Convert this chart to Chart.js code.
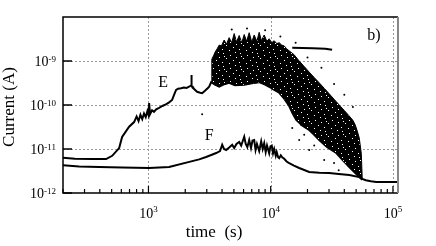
<!DOCTYPE html>
<html>
<head>
<meta charset="utf-8">
<script src="https://cdn.jsdelivr.net/npm/chart.js@4.4.1/dist/chart.umd.min.js"></script>
<style>
  html, body { margin: 0; padding: 0; background: #fff; }
  #wrap { width: 436px; height: 246px; position: relative; }
</style>
</head>
<body>
<div id="wrap"><canvas id="chartCurrent"></canvas></div>
<script>
// --- DATA ---
// curve E before the noisy burst
const eTime = [200, 250, 350, 450, 505, 576, 609, 695, 763, 800, 830, 860, 890, 920, 950,
  980, 1000, 1013, 1030, 1070, 1110, 1156, 1222, 1300, 1400, 1476, 1561, 1620, 1683, 1750,
  1850, 1950, 2050, 2150, 2234, 2245, 2260, 2300, 2364, 2500, 2650, 2750, 2900, 3050, 3139, 3258];
const eCurrent = [6.3e-12, 6.0e-12, 5.9e-12, 5.9e-12, 7.0e-12, 1.05e-11, 1.87e-11, 3.2e-11, 4.1e-11, 5.5e-11,
  4.3e-11, 6.0e-11, 4.8e-11, 6.4e-11, 5.3e-11, 7.2e-11, 6.0e-11, 1.1e-10, 6.2e-11, 7.6e-11,
  7.0e-11, 8.0e-11, 8.6e-11, 9.5e-11, 1.05e-10, 1.15e-10, 1.3e-10, 1.7e-10, 2.2e-10, 2.35e-10,
  2.4e-10, 2.5e-10, 2.45e-10, 2.6e-10, 2.8e-10, 4.8e-10, 2.7e-10, 2.6e-10, 2.3e-10, 2.0e-10,
  1.9e-10, 1.85e-10, 2.1e-10, 2.4e-10, 2.6e-10, 3.3e-10];

// upper and lower edge of the scattered burst of E
const bandTopTime = [3258, 3300, 3400, 3514, 3650, 3791, 3950, 4162, 4350, 4572, 4800, 5027, 5250, 5525,
  5800, 6073, 6350, 6671, 7000, 7329, 7700, 8052, 8400, 8848, 9300, 9720, 10200, 10680, 11200, 11740,
  12300, 12900, 13500, 14170, 15500, 17110, 18800, 20640, 22700, 24930, 27400, 30100, 33000, 36370,
  40000, 43950, 47000, 49200, 51000, 53000, 55070, 56100];
const bandTopCurrent = [3.3e-10, 1.1e-9, 1.3e-9, 1.6e-9, 1.9e-9, 2.3e-9, 2.2e-9, 3.0e-9, 2.4e-9, 3.4e-9,
  2.6e-9, 4.2e-9, 2.7e-9, 3.8e-9, 2.6e-9, 4.0e-9, 2.8e-9, 4.4e-9, 2.7e-9, 3.9e-9,
  2.8e-9, 4.5e-9, 2.9e-9, 3.9e-9, 2.8e-9, 3.2e-9, 2.6e-9, 2.9e-9, 2.5e-9, 2.6e-9,
  2.3e-9, 2.2e-9, 1.9e-9, 1.7e-9, 1.4e-9, 1.0e-9, 7.5e-10, 5.6e-10, 4.2e-10, 3.2e-10,
  2.4e-10, 1.8e-10, 1.35e-10, 1.0e-10, 7.5e-11, 5.6e-11, 4.5e-11, 3.5e-11, 2.6e-11, 1.8e-11,
  8.0e-12, 2.1e-12];
const bandBottomTime = [3258, 3500, 3791, 4100, 4572, 5100, 6073, 7000, 8052, 9000, 9720, 10700, 11740,
  12900, 14170, 15100, 16180, 18200, 20640, 22700, 24930, 29000, 34400, 39000, 43950, 51100, 56100];
const bandBottomCurrent = [3.3e-10, 2.9e-10, 2.6e-10, 2.9e-10, 3.2e-10, 2.8e-10, 2.9e-10, 3.1e-10, 3.3e-10,
  2.9e-10, 2.6e-10, 2.2e-10, 1.9e-10, 1.4e-10, 9.5e-11, 6.5e-11, 4.6e-11, 3.4e-11, 2.7e-11, 2.1e-11,
  1.6e-11, 1.1e-11, 8.1e-12, 5.5e-12, 3.9e-12, 2.57e-12, 2.1e-12];

// curve E after the burst (joins F)
const eTailTime = [56100, 60000, 66000, 73000, 85000, 110000];
const eTailCurrent = [2.1e-12, 1.95e-12, 1.85e-12, 1.78e-12, 1.78e-12, 1.78e-12];

// short flat trace near the top
const segTime = [15000, 22000, 28000, 31800];
const segCurrent = [2.0e-9, 1.95e-9, 1.9e-9, 1.8e-9];

// stray dots around the burst
const strayTime = [4800, 6400, 9000, 12000, 16000, 20000, 26000, 33000, 40000, 47000,
  15000, 17110, 17800, 18800, 20640, 22700, 27400, 33000, 2750, 36000];
const strayCurrent = [5.2e-9, 5.5e-9, 5.0e-9, 3.6e-9, 2.6e-9, 1.2e-9, 7.0e-10, 3.0e-10, 1.7e-10, 9.0e-11,
  3.0e-11, 1.6e-11, 3.5e-11, 2.1e-11, 9.5e-12, 1.2e-11, 5.6e-12, 4.8e-12, 6.2e-11, 3.3e-12];

// curve F
const fTime = [200, 271, 395, 609, 1013, 1476, 2158, 2600, 2963, 3300, 3581, 3850, 4010, 4150, 4324,
  4600, 4840, 5027, 5250, 5525, 5737, 5900, 6073, 6250, 6440, 6671, 6900, 7100, 7329, 7520,
  7720, 8052, 8360, 8600, 8848, 9100, 9330, 9720, 9950, 10200, 10450, 10680, 11000, 11200, 11500,
  11740, 12100, 12420, 12900, 13500, 14170, 15500, 17110, 20640, 25000, 30100, 36000, 43950, 53000, 56100];
const fCurrent = [4.3e-12, 4.0e-12, 3.9e-12, 3.8e-12, 3.7e-12, 3.9e-12, 5.1e-12, 5.8e-12, 6.6e-12, 7.4e-12,
  8.1e-12, 9.0e-12, 1.25e-11, 1.0e-11, 9.5e-12, 1.1e-11, 1.25e-11, 1.05e-11, 1.3e-11, 1.45e-11,
  1.2e-11, 1.5e-11, 1.9e-11, 1.3e-11, 1.1e-11, 1.6e-11, 1.05e-11, 1.55e-11, 1.6e-11, 9.5e-12,
  1.3e-11, 9.0e-12, 1.5e-11, 1.0e-11, 1.35e-11, 8.5e-12, 1.2e-11, 8.0e-12, 1.15e-11, 1.2e-11,
  8.0e-12, 1.0e-11, 7.0e-12, 8.5e-12, 6.5e-12, 6.2e-12, 7.2e-12, 6.5e-12, 6.0e-12, 5.2e-12,
  4.8e-12, 4.2e-12, 3.7e-12, 3.0e-12, 2.9e-12, 2.85e-12, 2.7e-12, 2.57e-12, 2.3e-12, 2.0e-12];

// axis ticks
const xTickValues = [1e3, 1e4, 1e5];
const xTickExp = ['3', '4', '5'];
const yTickValues = [1e-9, 1e-10, 1e-11, 1e-12];
const yTickExp = ['-9', '-10', '-11', '-12'];

// curve labels, placed in data coordinates
const curveLabels = [
  { text: 'E', x: 1320, y: 3.2e-10 },
  { text: 'F', x: 3140, y: 2.0e-11 },
  { text: 'b)', x: 70000, y: 3.7e-9 }
];

// --- HELPERS ---
function pts(xs, ys) {
  return xs.map((x, i) => ({ x: x, y: ys[i] }));
}

// mostly black fill with a few white specks, for the scattered burst
function speckle() {
  const c = document.createElement('canvas');
  c.width = 17; c.height = 13;
  const g = c.getContext('2d');
  g.fillStyle = '#000';
  g.fillRect(0, 0, 17, 13);
  g.fillStyle = '#fff';
  [[2, 1], [9, 3], [14, 0], [5, 6], [12, 8], [1, 10], [8, 11], [15, 5], [3, 4]]
    .forEach(p => g.fillRect(p[0], p[1], 1, 1));
  return g.createPattern(c, 'repeat');
}

const SERIF = "'Liberation Serif', 'Times New Roman', serif";

// grid, frame, ticks and labels drawn in the style of the figure
const figurePlugin = {
  id: 'figure',
  beforeDatasetsDraw(chart) {
    const { ctx, chartArea: a, scales } = chart;
    ctx.save();
    ctx.strokeStyle = '#999';
    ctx.lineWidth = 1;
    ctx.setLineDash([2, 2]);
    xTickValues.forEach(v => {
      const px = Math.round(scales.x.getPixelForValue(v)) + 0.5;
      if (px > a.left + 2 && px < a.right - 2) {
        ctx.beginPath(); ctx.moveTo(px, a.top); ctx.lineTo(px, a.bottom); ctx.stroke();
      }
    });
    yTickValues.forEach(v => {
      const py = Math.round(scales.y.getPixelForValue(v)) + 0.5;
      if (py > a.top + 2 && py < a.bottom - 2) {
        ctx.beginPath(); ctx.moveTo(a.left, py); ctx.lineTo(a.right, py); ctx.stroke();
      }
    });
    ctx.restore();
  },
  afterDraw(chart) {
    const { ctx, chartArea: a, scales } = chart;
    ctx.save();
    ctx.setLineDash([]);

    // frame
    ctx.strokeStyle = '#000';
    ctx.lineWidth = 1.5;
    ctx.beginPath();
    ctx.moveTo(a.right, a.top); ctx.lineTo(a.left, a.top);
    ctx.lineTo(a.left, a.bottom); ctx.lineTo(a.right, a.bottom);
    ctx.stroke();
    ctx.strokeStyle = '#888';
    ctx.lineWidth = 2;
    ctx.beginPath(); ctx.moveTo(a.right, a.top); ctx.lineTo(a.right, a.bottom); ctx.stroke();

    // y major ticks (inward)
    ctx.strokeStyle = '#000';
    ctx.lineWidth = 1.5;
    yTickValues.forEach(v => {
      const py = scales.y.getPixelForValue(v);
      ctx.beginPath(); ctx.moveTo(a.left, py); ctx.lineTo(a.left + 9, py); ctx.stroke();
    });

    // x ticks: minor and major, inward
    ctx.lineWidth = 1.2;
    for (let d = 2; d <= 5; d++) {
      for (let m = 1; m <= 9; m++) {
        const v = m * Math.pow(10, d);
        if (v < scales.x.min || v > scales.x.max) continue;
        const px = scales.x.getPixelForValue(v);
        const len = m === 1 ? 7 : 4;
        ctx.beginPath(); ctx.moveTo(px, a.bottom); ctx.lineTo(px, a.bottom - len); ctx.stroke();
      }
    }

    // tick labels
    ctx.fillStyle = '#000';
    ctx.textBaseline = 'alphabetic';
    const big = '14px ' + SERIF;
    const small = '9px ' + SERIF;
    yTickValues.forEach((v, i) => {
      const py = scales.y.getPixelForValue(v);
      ctx.font = small;
      const ew = ctx.measureText(yTickExp[i]).width;
      const right = a.left - 7;
      ctx.textAlign = 'left';
      ctx.fillText(yTickExp[i], right - ew, py + 0.5);
      ctx.font = big;
      ctx.textAlign = 'right';
      ctx.fillText('10', right - ew, py + 5);
    });
    xTickValues.forEach((v, i) => {
      const px = scales.x.getPixelForValue(v);
      ctx.font = big;
      const bw = ctx.measureText('10').width;
      ctx.font = small;
      const ew = ctx.measureText(xTickExp[i]).width;
      const start = px - (bw + ew) / 2;
      ctx.textAlign = 'left';
      ctx.font = big;
      ctx.fillText('10', start, a.bottom + 25);
      ctx.font = small;
      ctx.fillText(xTickExp[i], start + bw, a.bottom + 19);
    });

    // axis titles
    ctx.font = '17px ' + SERIF;
    ctx.textAlign = 'center';
    ctx.fillText('time  (s)', a.left + 151, a.bottom + 44);
    ctx.save();
    ctx.translate(10, a.top + 90);
    ctx.rotate(-Math.PI / 2);
    ctx.textBaseline = 'middle';
    ctx.fillText('Current (A)', 0, 0);
    ctx.restore();

    // curve labels
    ctx.font = '16px ' + SERIF;
    ctx.textAlign = 'center';
    ctx.textBaseline = 'middle';
    curveLabels.forEach(l => {
      ctx.fillText(l.text, scales.x.getPixelForValue(l.x), scales.y.getPixelForValue(l.y));
    });
    ctx.restore();
  }
};

// --- CHART ---
Chart.defaults.font.family = SERIF;
Chart.defaults.animation = false;

const lineStyle = { borderColor: '#000', borderWidth: 2, pointRadius: 0, tension: 0, fill: false };

new Chart(document.getElementById('chartCurrent'), {
  type: 'line',
  data: {
    datasets: [
      {
        label: 'E burst top',
        data: pts(bandTopTime, bandTopCurrent),
        borderColor: '#000', borderWidth: 1, pointRadius: 0, tension: 0,
        backgroundColor: speckle(),
        fill: '+1'
      },
      {
        label: 'E burst bottom',
        data: pts(bandBottomTime, bandBottomCurrent),
        borderColor: '#000', borderWidth: 1, pointRadius: 0, tension: 0, fill: false
      },
      {
        label: 'E',
        data: pts(eTime, eCurrent).concat(pts(bandBottomTime, bandBottomCurrent), pts(eTailTime, eTailCurrent)),
        ...lineStyle
      },
      {
        label: 'F',
        data: pts(fTime, fCurrent),
        ...lineStyle
      },
      {
        label: 'flat trace',
        data: pts(segTime, segCurrent),
        ...lineStyle
      },
      {
        label: 'stray',
        data: pts(strayTime, strayCurrent),
        showLine: false,
        pointRadius: 1,
        pointBackgroundColor: '#000',
        pointBorderWidth: 0
      }
    ]
  },
  options: {
    responsive: true,
    maintainAspectRatio: false,
    layout: { padding: { left: 63, right: 38, top: 17, bottom: 53 } },
    plugins: {
      legend: { display: false },
      tooltip: { enabled: false }
    },
    scales: {
      x: { type: 'logarithmic', min: 200, max: 110000, display: false },
      y: { type: 'logarithmic', min: 1e-12, max: 1e-8, display: false }
    }
  },
  plugins: [figurePlugin]
});
</script>
</body>
</html>
